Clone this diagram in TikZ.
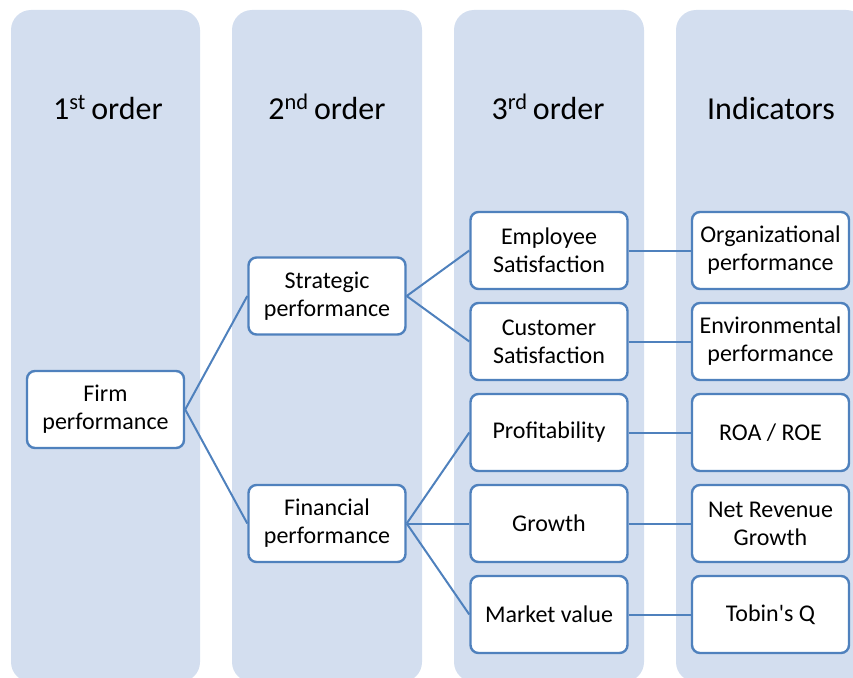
\documentclass[tikz,border=0pt]{standalone}
\usepackage{fontspec}
\setmainfont{Carlito}[Ligatures=TeXOff]
\begin{document}
\definecolor{lane}{HTML}{D3DEEF}
\definecolor{edge}{HTML}{4F81BD}
\begin{tikzpicture}[x=1pt,y=-1pt,
  lanebox/.style={fill=lane,draw=none,rounded corners=20pt},
  title/.style={font=\fontsize{32}{38}\selectfont,anchor=base},
  item/.style={draw=edge,line width=2.4pt,fill=white,rounded corners=8pt,
    minimum width=157pt,minimum height=77pt,inner sep=2pt,align=center,
    font=\fontsize{24}{28}\selectfont},
  link/.style={draw=edge,line width=2pt}]
\useasboundingbox (0,0) rectangle (853,677);
\clip (0,0) rectangle (853,677);
% four column lanes
\fill[lanebox] (11,10) rectangle (200,682);
\fill[lanebox] (232,10) rectangle (422,682);
\fill[lanebox] (454,10) rectangle (644,682);
\fill[lanebox] (676,10) rectangle (866,682);
% column headings
\node[title] (h1) at (108,119) {1\textsuperscript{st}\,order};
\node[title] (h2) at (327,119) {2\textsuperscript{nd}\,order};
\node[title] (h3) at (548,119) {3\textsuperscript{rd}\,order};
\node[title] (h4) at (771,119) {Indicators};
% boxes
\node[item] (firm) at (105.5,409.5) {Firm\\performance};
\node[item] (strat) at (327,296) {Strategic\\performance};
\node[item] (fin) at (327,523.5) {Financial\\performance};
\node[item] (emp) at (549,250.5) {Employee\\Satisfaction};
\node[item] (cust) at (549,341.5) {Customer\\Satisfaction};
\node[item] (prof) at (549,432.5) {Profitability};
\node[item] (grow) at (549,523.5) {Growth};
\node[item] (mkt) at (549,614.5) {Market value};
\node[item] (org) at (770.5,250.5) {Organizational\\performance};
\node[item] (env) at (770.5,341.5) {Environmental\\performance};
\node[item] (roa) at (770.5,432.5) {ROA / ROE};
\node[item] (nrg) at (770.5,523.5) {Net Revenue\\Growth};
\node[item] (tq) at (770.5,614.5) {Tobin's Q};
% connectors
\draw[link] (firm.east) -- (strat.west);
\draw[link] (firm.east) -- (fin.west);
\draw[link] (strat.east) -- (emp.west);
\draw[link] (strat.east) -- (cust.west);
\draw[link] (fin.east) -- (prof.west);
\draw[link] (fin.east) -- (grow.west);
\draw[link] (fin.east) -- (mkt.west);
\draw[link] (emp.east) -- (org.west);
\draw[link] (cust.east) -- (env.west);
\draw[link] (prof.east) -- (roa.west);
\draw[link] (grow.east) -- (nrg.west);
\draw[link] (mkt.east) -- (tq.west);
\end{tikzpicture}
\end{document}
